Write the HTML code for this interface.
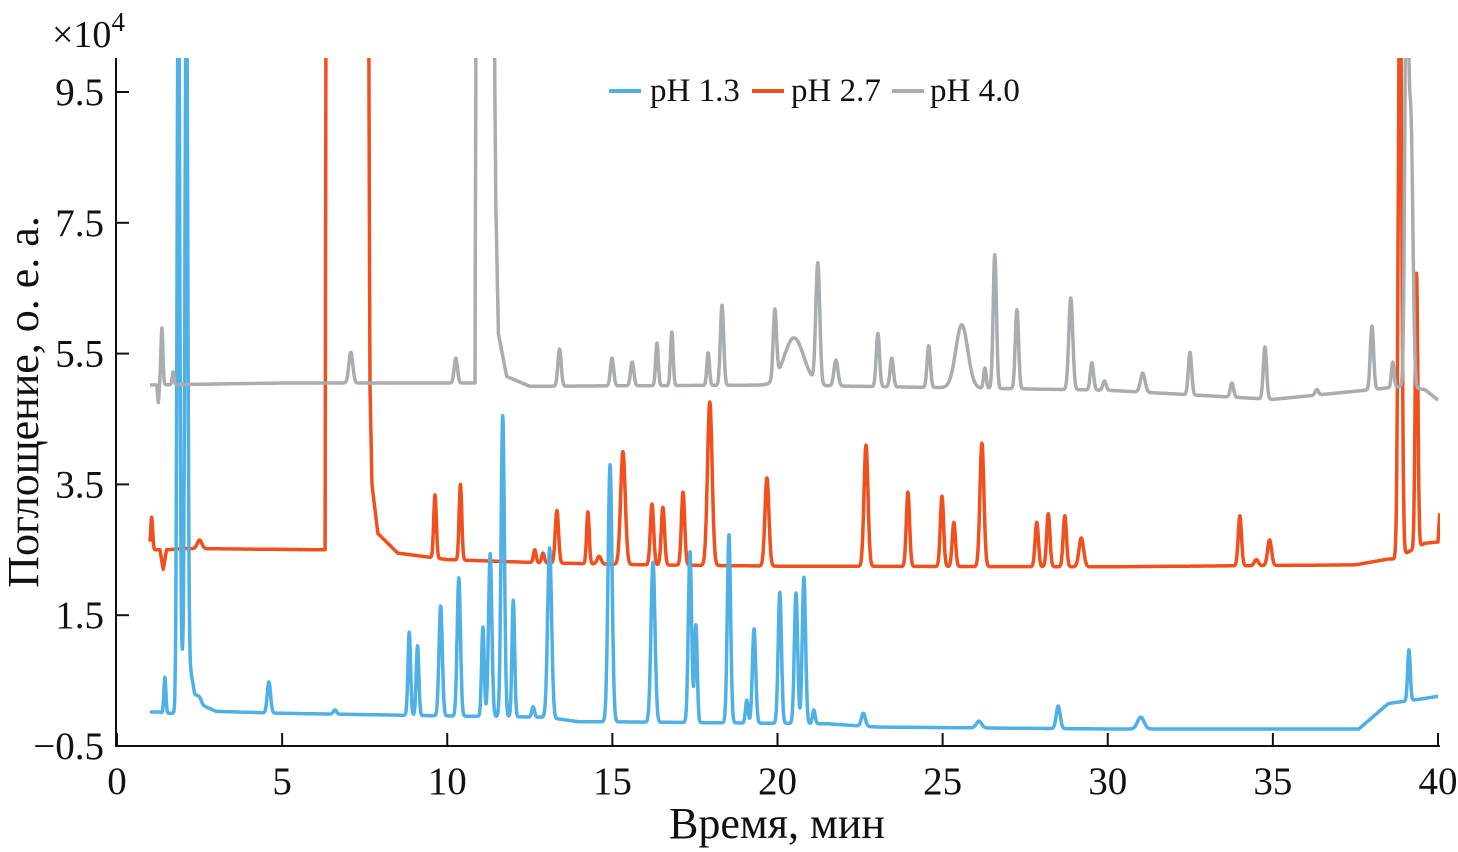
<!DOCTYPE html>
<html><head><meta charset="utf-8">
<style>
html,body{margin:0;padding:0;background:#fff;}
svg{display:block;}
text{font-family:"Liberation Serif",serif;fill:#111;}
</style></head>
<body>
<svg id="chart" width="1458" height="852" viewBox="0 0 1458 852">
<defs><clipPath id="plotclip"><rect x="116" y="58" width="1324" height="690"/></clipPath></defs>
<g id="series" clip-path="url(#plotclip)"></g>
<g id="axes"></g>
<g>
 <g><line x1="609" y1="91" x2="641" y2="91" stroke="#4fb0e6" stroke-width="4"/><text x="650" y="101" font-size="33">pH 1.3</text></g>
 <g><line x1="752" y1="91" x2="784" y2="91" stroke="#f0501e" stroke-width="4"/><text x="791" y="101" font-size="33">pH 2.7</text></g>
 <g><line x1="892" y1="91" x2="924" y2="91" stroke="#a9adb0" stroke-width="4"/><text x="930" y="101" font-size="33">pH 4.0</text></g>
</g>
<text x="52" y="47" font-size="38">×10<tspan dy="-16" font-size="27">4</tspan></text>
<text x="777" y="838" font-size="44" text-anchor="middle">Время, мин</text>
<text transform="translate(38,402) rotate(-90)" font-size="44" text-anchor="middle">Поглощение, о. е. а.</text>
</svg>
<script>
// axis ticks
const xTicks = [0,5,10,15,20,25,30,35,40];
const yTicks = [-0.5,1.5,3.5,5.5,7.5,9.5];
const yTickLabels = ["\u22120.5","1.5","3.5","5.5","7.5","9.5"];

// pH 1.3 (blue): baseline knots and peaks [time, apex, sigma]
const blueBaseT = [1.0,1.3,1.4,1.8,2.12,2.2,2.35,2.6,3.0,5.0,10.0,13.0,14.0,15.0,21.5,23.0,30.0,37.6,38.5,39.5,40.0];
const blueBaseV = [0.02,0.02,0.0,0.0,1.3,0.75,0.3,0.12,0.03,0.0,-0.04,-0.06,-0.13,-0.13,-0.16,-0.21,-0.24,-0.24,0.15,0.22,0.26];
const bluePeaks = [[1.45,0.55,0.03],[1.86,12,0.04],[2.1,12,0.04],[2.5,0.25,0.06],[4.6,0.48,0.05],[6.6,0.05,0.05],
 [8.85,1.24,0.04],[9.1,1.03,0.04],[9.8,1.64,0.05],[10.35,2.07,0.05],[11.08,1.32,0.04],[11.3,2.44,0.05],[11.68,4.55,0.05],
 [12.0,1.73,0.04],[12.6,0.1,0.04],[13.1,2.53,0.06],[14.93,3.8,0.06],[16.23,2.31,0.06],[17.35,2.47,0.05],[17.53,1.35,0.04],
 [18.53,2.73,0.05],[19.07,0.2,0.04],[19.29,1.29,0.05],[20.07,1.85,0.05],[20.56,1.84,0.05],[20.8,2.08,0.05],[21.1,0.05,0.04],
 [22.6,0.0,0.06],[26.1,-0.12,0.08],[28.5,0.11,0.06],[31.0,-0.06,0.1],[39.12,0.97,0.04]];

// pH 2.7 (red)
const redBaseT = [1.0,1.3,1.4,1.5,2.0,6.3,6.33,7.62,7.66,7.72,7.9,8.5,10.0,13.0,16.0,20.0,30.0,37.5,38.5,38.7,39.6,40.0,40.05];
const redBaseV = [2.5,2.5,2.2,2.5,2.52,2.5,11,11,5.0,3.5,2.75,2.45,2.35,2.3,2.27,2.25,2.24,2.27,2.36,2.36,2.6,2.62,3.06];
const redPeaks = [[1.05,3.0,0.03],[2.5,2.65,0.07],[9.63,3.34,0.04],[10.4,3.5,0.04],[12.65,2.5,0.04],[12.9,2.45,0.04],[13.32,3.1,0.05],
 [14.26,3.08,0.04],[14.6,2.4,0.06],[15.32,4.0,0.07],[16.2,3.2,0.05],[16.53,3.15,0.05],[17.14,3.38,0.05],[17.95,4.76,0.07],
 [19.68,3.6,0.06],[22.68,4.1,0.06],[23.95,3.38,0.05],[24.98,3.32,0.05],[25.34,2.92,0.05],[26.19,4.13,0.06],[27.85,2.92,0.05],
 [28.2,3.05,0.05],[28.7,3.02,0.05],[29.2,2.68,0.07],[34.0,3.02,0.05],[34.5,2.35,0.06],[34.9,2.65,0.06],
 [38.85,12,0.05],[39.35,6.73,0.04]];

// pH 4.0 (gray)
const grayBaseT = [1.0,5.0,10.8,10.84,10.87,11.42,11.47,11.55,11.8,12.5,20.0,30.0,35.0,38.0,38.9,39.6,40.0];
const grayBaseV = [5.02,5.05,5.05,5.05,11,11,7.8,5.8,5.15,5.0,5.02,4.94,4.8,4.95,5.0,4.95,4.79];
const grayPeaks = [[1.36,5.89,0.03],[1.25,4.75,0.02],[1.7,5.22,0.03],[7.08,5.52,0.06],[10.26,5.43,0.05],[13.4,5.57,0.05],
 [14.99,5.43,0.05],[15.6,5.37,0.05],[16.35,5.66,0.04],[16.8,5.83,0.04],[17.9,5.51,0.04],[18.32,6.24,0.05],[19.92,6.07,0.05],
 [20.5,5.74,0.3],[21.22,6.85,0.06],[21.77,5.4,0.06],[23.04,5.81,0.05],[23.46,5.43,0.05],[24.58,5.62,0.05],[25.58,5.94,0.18],
 [26.28,5.28,0.04],[26.58,7.01,0.05],[27.25,6.17,0.05],[28.88,6.35,0.06],[29.52,5.36,0.05],[29.9,5.08,0.05],[31.06,5.2,0.07],
 [32.49,5.52,0.05],[33.76,5.05,0.05],[34.76,5.6,0.05],[36.33,4.95,0.05],[38.0,5.92,0.05],[38.63,5.37,0.04],
 [39.05,12,0.05],[39.18,9.0,0.06]];

const X0=117, X1=1438, Y0=746, YTOP=92;
function xs(t){return X0+(t-0)*(X1-X0)/40;}
function ys(v){return Y0-(v+0.5)*(Y0-YTOP)/10;}
function interp(T,V,t){
  if(t<=T[0])return V[0];
  for(let i=1;i<T.length;i++){if(t<=T[i]){const f=(t-T[i-1])/(T[i]-T[i-1]);return V[i-1]+f*(V[i]-V[i-1]);}}
  return V[V.length-1];
}
const NS='http://www.w3.org/2000/svg';
function drawSeries(T,V,P,color,name){
  let d='';
  const tStart=T[0], tEnd=T[T.length-1];
  for(let t=tStart;t<=tEnd+1e-9;t+=0.01){
    let v=interp(T,V,t);
    for(const p of P){
      const amp=p[1]-interp(T,V,p[0]);
      const z=(t-p[0])/p[2];
      if(Math.abs(z)<5)v+=amp*Math.exp(-0.5*z*z);
    }
    d+=(d?'L':'M')+xs(t).toFixed(1)+','+ys(v).toFixed(1);
  }
  const path=document.createElementNS(NS,'path');
  path.setAttribute('d',d);path.setAttribute('fill','none');
  path.setAttribute('stroke',color);path.setAttribute('stroke-width','3.5');
  path.setAttribute('stroke-linejoin','round');
  
  
  document.getElementById('series').appendChild(path);
}
drawSeries(redBaseT,redBaseV,redPeaks,'#f0501e','line-ph27');
drawSeries(blueBaseT,blueBaseV,bluePeaks,'#4fb0e6','line-ph13');
drawSeries(grayBaseT,grayBaseV,grayPeaks,'#a9adb0','line-ph40');

const ax=document.getElementById('axes');
function mk(tag,attrs){const e=document.createElementNS(NS,tag);for(const k in attrs)e.setAttribute(k,attrs[k]);ax.appendChild(e);return e;}
const yAxis=mk('line',{x1:116,y1:58,x2:116,y2:747,stroke:'#111','stroke-width':2});


const xAxis=mk('line',{x1:115,y1:746,x2:1440,y2:746,stroke:'#111','stroke-width':2});


xTicks.forEach(t=>{
  const x=xs(t);
  const tk=mk('line',{x1:x,y1:746,x2:x,y2:733,stroke:'#111','stroke-width':2});
  
  
  const lb=mk('text',{x:x,y:794,'font-size':39,'text-anchor':'middle'});
  lb.textContent=String(t);
  
  
});
yTicks.forEach((v,i)=>{
  const y=ys(v);
  const tk=mk('line',{x1:116,y1:y,x2:129,y2:y,stroke:'#111','stroke-width':2});
  
  
  const lb=mk('text',{x:104,y:y+13,'font-size':39,'text-anchor':'end'});
  lb.textContent=yTickLabels[i];
  
  
});
</script>
</body></html>
